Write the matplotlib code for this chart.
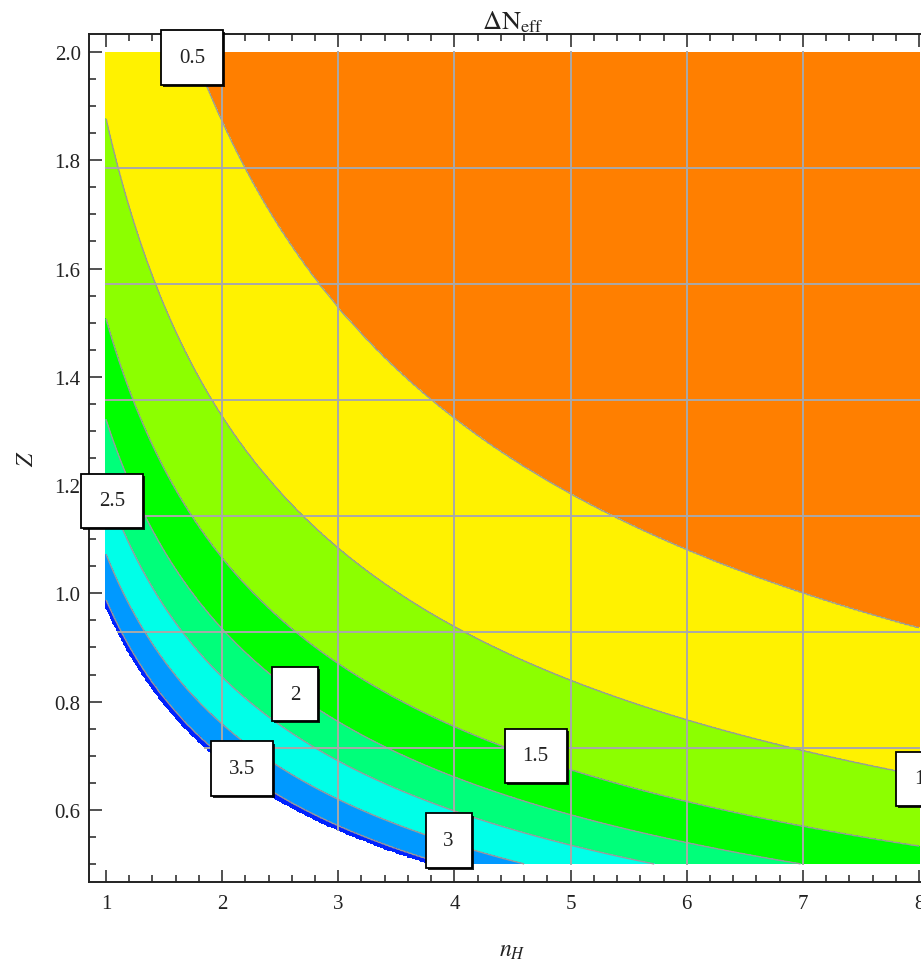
import numpy as np
import matplotlib
matplotlib.use('Agg')
import matplotlib.pyplot as plt
from matplotlib import patheffects
from matplotlib.ticker import MultipleLocator, FormatStrFormatter

plt.rcParams['font.family'] = ['Liberation Serif', 'DejaVu Serif']
plt.rcParams['mathtext.fontset'] = 'stix'

# contour levels of ΔN_eff and where each sits, as n_H * Z^2
levels = [0.5, 1.0, 1.5, 2.0, 2.5, 3.0, 3.5, 4.0]
level_u = [7.0, 3.52, 2.27, 1.745, 1.43, 1.15, 0.975, 0.945]
band_colors = ['#FF7F00', '#FFF200', '#8CFF00', '#00FF00', '#00FF7A',
               '#00FFE8', '#0099FF', '#0022FF']

# contour labels (text, n_H, Z)
label_text = ['0.5', '1', '1.5', '2', '2.5', '3', '3.5']
label_n = [1.74, 8.0, 4.70, 2.63, 1.05, 3.95, 2.17]
label_z = [1.99, 0.657, 0.70, 0.814, 1.171, 0.543, 0.676]

n_range = (1, 8)
z_range = (0.5, 2.0)
mesh_n = [2, 3, 4, 5, 6, 7]
mesh_z_count = 8


def main():
    n = np.linspace(n_range[0], n_range[1], 701)
    z = np.linspace(z_range[0], z_range[1], 601)
    N, Zg = np.meshgrid(n, z)
    U = N * Zg ** 2
    xp = level_u[::-1] + [40.0]
    fp = levels[::-1] + [0.0]
    dN = np.interp(U, xp, fp)
    dN = np.ma.masked_where(U < level_u[-1], dN)
    mask = np.ma.getmaskarray(dN)

    fig = plt.figure(figsize=(9.21, 9.62), dpi=100, facecolor='white')
    ax = fig.add_axes([89 / 921, 79 / 962, 847 / 921, 848 / 962])

    ax.contourf(N, Zg, dN, levels=[0.0] + levels, colors=band_colors, zorder=1)
    ax.contour(N, Zg, dN, levels=levels[:-1], colors='#9a9a9a', linewidths=1.0, zorder=2)

    # mesh lines, only over the plotted region
    mesh_col = '#a9a9a9'
    for k in mesh_n:
        j = np.argmin(np.abs(n - k))
        zz = np.where(~mask[:, j], z, np.nan)
        ax.plot(np.full_like(z, k), zz, color=mesh_col, lw=1.4, zorder=3)
    for zk in np.linspace(z_range[0], z_range[1], mesh_z_count)[1:-1]:
        i = np.argmin(np.abs(z - zk))
        nn = np.where(~mask[i, :], n, np.nan)
        ax.plot(nn, np.full_like(n, zk), color=mesh_col, lw=1.4, zorder=3)

    # contour labels
    for s, xn, yz in zip(label_text, label_n, label_z):
        t = ax.text(xn, yz, s, ha='center', va='center', fontsize=15, color='#222222',
                    zorder=6, clip_on=False,
                    bbox=dict(boxstyle='square,pad=0.85', facecolor='white',
                              edgecolor='black', linewidth=1.3))
        t.get_bbox_patch().set_path_effects([
            patheffects.withSimplePatchShadow(offset=(1.5, -1.5), shadow_rgbFace='black', alpha=0.85)])

    ax.set_xlim(0.854, 8.146)
    ax.set_ylim(0.4667, 2.0333)
    ax.xaxis.set_major_locator(MultipleLocator(1))
    ax.xaxis.set_minor_locator(MultipleLocator(0.2))
    ax.yaxis.set_major_locator(MultipleLocator(0.2))
    ax.yaxis.set_minor_locator(MultipleLocator(0.05))
    ax.xaxis.set_major_formatter(FormatStrFormatter('%d'))
    ax.yaxis.set_major_formatter(FormatStrFormatter('%.1f'))
    ax.tick_params(which='both', direction='in', top=True, right=True,
                   width=1.1, colors='#222222', labelsize=15)
    ax.tick_params(which='major', length=9)
    ax.tick_params(which='minor', length=5)
    ax.tick_params(axis='x', pad=9)
    ax.tick_params(axis='y', pad=6)
    for sp in ax.spines.values():
        sp.set_linewidth(1.4)
        sp.set_color('#222222')

    ax.set_title(r'$\Delta\mathrm{N}_{\mathrm{eff}}$', fontsize=19, color='#222222', pad=1)
    ax.set_xlabel(r'$n_H$', fontsize=17, color='#222222', labelpad=19)
    ax.set_ylabel(r'$Z$', fontsize=17, color='#222222', labelpad=12)

    fig.savefig('out.png', dpi=100, facecolor='white')
    plt.close(fig)


if __name__ == '__main__':
    main()
